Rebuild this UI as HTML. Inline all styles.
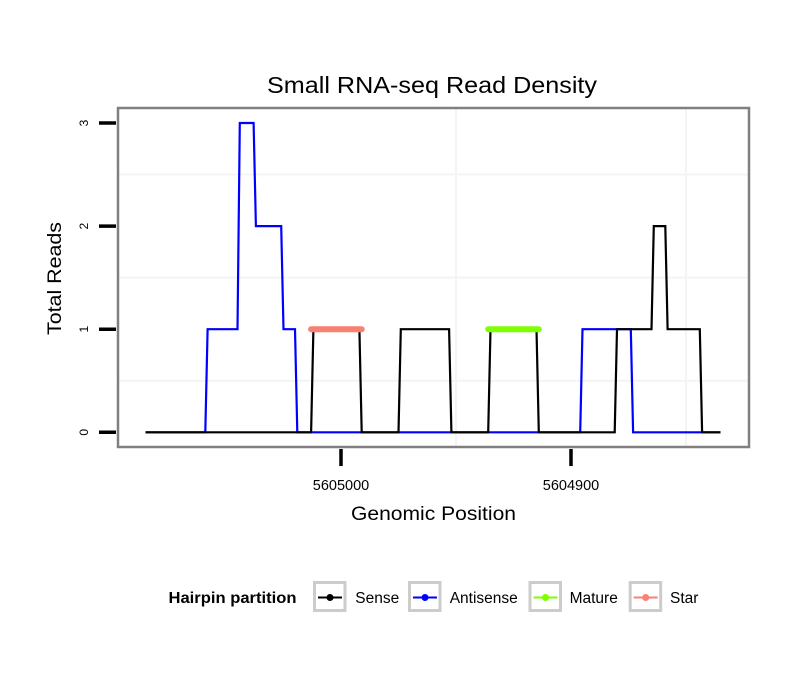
<!DOCTYPE html>
<html><head><meta charset="utf-8"><style>
body{margin:0;background:#fff;}
svg text{font-family:"Liberation Sans",sans-serif;}
</style></head><body>
<svg id="chart" width="810" height="690" xmlns="http://www.w3.org/2000/svg">
<rect width="810" height="690" fill="#fff"/>
<text x="267" y="93" font-size="23" textLength="330" lengthAdjust="spacingAndGlyphs">Small RNA-seq Read Density</text>
<g id="grid"></g>
<g id="series"></g>
<rect x="118" y="108" width="631" height="339" fill="none" stroke="#808080" stroke-width="2.5"/>
<g id="axes"></g>
<text x="351" y="520" font-size="19" textLength="165" lengthAdjust="spacingAndGlyphs">Genomic Position</text>
<text transform="translate(61,335) rotate(-90)" font-size="19" textLength="113" lengthAdjust="spacingAndGlyphs">Total Reads</text>
<g>
<text x="168.5" y="603" font-size="15.5" font-weight="bold" textLength="128" lengthAdjust="spacingAndGlyphs">Hairpin partition</text>
<g id="legend-keys"></g>
</g>
</svg>
<script>
const xTicks = [5605000, 5604900];
const yTicks = [0, 1, 2, 3];
const antisensePos = [5605085,5605059,5605058,5605045,5605044,5605038,5605037,5605026,5605025,5605020,5605019,5604896,5604895,5604874,5604873,5604835];
const antisenseVal = [0,0,1,1,3,3,2,2,1,1,0,0,1,1,0,0];
const sensePos = [5605085,5605013,5605012,5604992,5604991,5604975,5604974,5604953,5604952,5604936,5604935,5604915,5604914,5604881,5604880,5604865,5604864,5604859,5604858,5604844,5604843,5604835];
const senseVal = [0,0,1,1,0,0,1,1,0,0,1,1,0,0,1,1,2,2,1,1,0,0];
const starRange = [5605013, 5604991];
const starVal = 1;
const matureRange = [5604936, 5604914];
const matureVal = 1;
const legendLabels = ["Sense","Antisense","Mature","Star"];
const legendColors = ["#000000","#0000ff","#7fff00","#fa8072"];

const NS="http://www.w3.org/2000/svg";
const X = p => 341 + (5605000 - p) * 2.3;
const Y = v => 432.3 - v * 103.1;
function mk(tag, attrs, parent){const e=document.createElementNS(NS,tag);for(const k in attrs)e.setAttribute(k,attrs[k]);parent.appendChild(e);return e;}
const grid=document.getElementById('grid'), series=document.getElementById('series'), axes=document.getElementById('axes');
for(let i=0;i<yTicks.length-1;i++){
  const yy=Y((yTicks[i]+yTicks[i+1])/2);
  const l=mk('line',{x1:119,x2:748,y1:yy,y2:yy,stroke:'#f4f4f4','stroke-width':2},grid);
  
  
}
const step = xTicks[0]-xTicks[1];
[xTicks[0]-step/2, xTicks[1]-step/2].forEach(p=>{
  const l=mk('line',{x1:X(p),x2:X(p),y1:109,y2:446,stroke:'#f4f4f4','stroke-width':2},grid);
  
  
});
function poly(pos,val,color,name){
  const pts=pos.map((p,i)=>X(p).toFixed(1)+','+Y(val[i]).toFixed(1)).join(' ');
  const e=mk('polyline',{points:pts,fill:'none',stroke:color,'stroke-width':2.2,'stroke-linejoin':'miter'},series);
  
  
}
poly(antisensePos,antisenseVal,'#0000ff','antisense-line');
poly(sensePos,senseVal,'#000000','sense-line');
function seg(r,v,color,name){
  const e=mk('line',{x1:X(r[0]),x2:X(r[1]),y1:Y(v),y2:Y(v),stroke:color,'stroke-width':6,'stroke-linecap':'round'},series);
  
  
}
seg(starRange,starVal,'#fa8072','star-segment');
seg(matureRange,matureVal,'#7fff00','mature-segment');
yTicks.forEach(v=>{
  const t=mk('line',{x1:99,x2:116,y1:Y(v),y2:Y(v),stroke:'#000','stroke-width':3.5},axes);
  
  
  const tx=mk('text',{transform:`translate(88,${Y(v)}) rotate(-90)`,'font-size':12,'text-anchor':'middle'},axes);
  tx.textContent=v;
  
  
});
xTicks.forEach(p=>{
  const t=mk('line',{x1:X(p),x2:X(p),y1:449,y2:466,stroke:'#000','stroke-width':3.5},axes);
  
  
  const tx=mk('text',{x:X(p),y:490,'font-size':14.5,'text-anchor':'middle'},axes);
  tx.textContent=p;
  
  
});
const lk=document.getElementById('legend-keys');
const boxX=[313,408,528.5,628.7];
const textX=[355.3,449.7,569.6,670];
legendLabels.forEach((lab,i)=>{
  const g=mk('g',{},lk);
  
  
  mk('rect',{x:boxX[i]+1.5,y:582.5,width:30.5,height:28,fill:'#fff',stroke:'#cccccc','stroke-width':3},g);
  mk('line',{x1:boxX[i]+5,x2:boxX[i]+29,y1:597.5,y2:597.5,stroke:legendColors[i],'stroke-width':2},g);
  mk('circle',{cx:boxX[i]+17,cy:597.5,r:3.5,fill:legendColors[i]},g);
  const t=mk('text',{x:textX[i],y:603,'font-size':15.5},g);
  t.textContent=lab;
});
</script>
</body></html>
